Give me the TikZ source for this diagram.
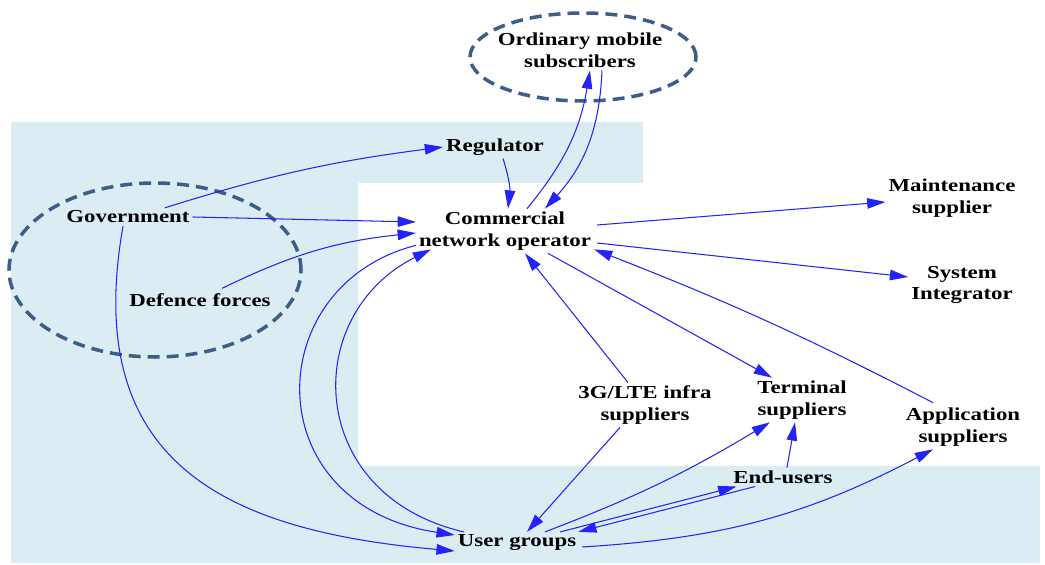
\documentclass[tikz,border=0pt]{standalone}
\usepackage{fontspec}
\setmainfont{Liberation Serif}[FakeStretch=1.25]
\usetikzlibrary{calc, positioning}
\usetikzlibrary{arrows.meta}
\definecolor{linkblue}{RGB}{35,35,250}
\definecolor{groupblue}{RGB}{62,94,138}
\definecolor{zonefill}{RGB}{219,237,243}

\begin{document}
\begin{tikzpicture}[x=0.025cm,y=0.025cm,
    actor/.style={align=center, inner sep=2pt, font=\fontsize{13}{15.6}\selectfont\bfseries},
    link/.style={linkblue, line width=0.75pt, -{Triangle[length=13pt,width=7.5pt]}},
    group/.style={groupblue, line width=2.5pt, dash pattern=on 8.5pt off 5pt}]
\useasboundingbox (0,0) rectangle (1045,565);
\fill[zonefill] (11,443) -- (643,443) -- (643,382) -- (358,382) -- (358,99)
    -- (1040,99) -- (1040,2) -- (11,2) -- cycle;

\draw[group] (583,508) ellipse (113 and 44);
\draw[group] (155,295) ellipse (146 and 87);

\node[actor] (sub) at (580,515) {Ordinary mobile\\subscribers};
\node[actor] (reg) at (495,418) {Regulator};
\node[actor] (cno) at (505,334) {Commercial\\network operator};
\node[actor] (gov) at (128,348) {Government};
\node[actor] (def) at (200,265) {Defence forces};
\node[actor] (mnt) at (952,367) {Maintenance\\supplier};
\node[actor] (sint) at (962,280) {System\\Integrator};
\node[actor] (infra) at (645,160) {3G/LTE infra\\suppliers};
\node[actor] (term) at (802,165) {Terminal\\suppliers};
\node[actor] (app) at (963,138) {Application\\suppliers};
\node[actor] (endu) at (783,88) {End-users};
\node[actor] (ug) at (517,22) {User groups};

\draw[link] ([shift={(37,0)}]gov.north) to[bend left=5] (reg.west);
\draw[link] (gov.east) -- ([shift={(0,9)}]cno.west);
\draw[link] ([shift={(22,2)}]def.north) to[bend left=10] ([shift={(0,-2)}]cno.west);
\draw[link] ([shift={(-5,0)}]gov.south) to[out=-100,in=175,looseness=1.3] ([shift={(0,-8)}]ug.west);
\draw[link] ([shift={(8,0)}]reg.south) to[bend left=12] ([shift={(3,0)}]cno.north);
\draw[link] ([shift={(22,0)}]cno.north) to[bend right=15] ([shift={(10,0)}]sub.south);
\draw[link] ([shift={(22,0)}]sub.south) to[bend left=20] ([shift={(40,0)}]cno.north);
\draw[link] ([shift={(3,6)}]cno.east) -- ([shift={(0,-4)}]mnt.west);
\draw[link] ([shift={(3,-12)}]cno.east) -- ([shift={(0,8)}]sint.west);
\draw[link] ([shift={(-30,2)}]app.north) to[bend right=3] ([shift={(0,4)}]cno.south east);
\draw[link] ([shift={(43,0)}]cno.south) -- ([shift={(-30,0)}]term.north);
\draw[link] ([shift={(-17,0)}]infra.north) -- ([shift={(20,0)}]cno.south);
\draw[link] ([shift={(-25,0)}]infra.south) -- ([shift={(10,0)}]ug.north);
\draw[link] ([shift={(0,8)}]cno.south west) .. controls (260,280) and (255,60) .. ([shift={(0,8)}]ug.west);
\draw[link] ([shift={(9,0)}]ug.north west) .. controls (305,70) and (300,250) .. ([shift={(15,4)}]cno.south west);
\draw[link] ([shift={(28,0)}]ug.north) to[bend right=5] ([shift={(-32,0)}]term.south);
\draw[link] ([shift={(4,0)}]endu.north) -- ([shift={(-7,0)}]term.south);
\draw[link] ([shift={(-19,0)}]ug.north east) -- ([shift={(6,0)}]endu.south west);
\draw[link] ([shift={(-28,0)}]endu.south) -- ([shift={(-1,0)}]ug.north east);
\draw[link] ([shift={(3,-4)}]ug.east) to[bend right=12] ([shift={(-30,0)}]app.south);
\end{tikzpicture}
\end{document}
